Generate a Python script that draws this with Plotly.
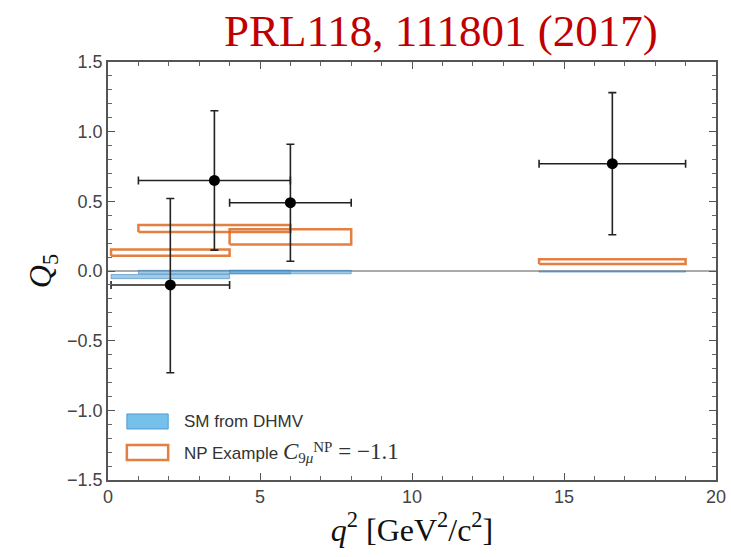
import plotly.graph_objects as go

# q^2 bin edges for the measured points [GeV^2/c^2]
bin_lo = [0.1, 1.0, 4.0, 14.18]
bin_hi = [4.0, 6.0, 8.0, 19.0]

# Measured Q5 with asymmetric errors
q5_val = [-0.10, 0.65, 0.49, 0.77]
q5_err_up = [0.62, 0.50, 0.42, 0.51]
q5_err_dn = [0.63, 0.50, 0.42, 0.51]

# Standard Model prediction bands (DHMV)
sm_lo = [-0.055, -0.020, -0.020, -0.008]
sm_hi = [-0.025, 0.005, 0.005, 0.000]

# New Physics example bands (C9mu^NP = -1.1)
np_lo = [0.11, 0.28, 0.19, 0.05]
np_hi = [0.155, 0.33, 0.30, 0.085]

SM_FILL = "rgba(80,160,215,0.55)"
SM_EDGE = "rgba(50,120,180,0.5)"
NP_EDGE = "rgba(222,105,30,0.85)"

fig = go.Figure()


def box_trace(x0, x1, y0, y1, fill, edge, width):
    return go.Scatter(
        x=[x0, x1, x1, x0, x0], y=[y0, y0, y1, y1, y0],
        mode="lines", fill="toself", fillcolor=fill,
        line=dict(color=edge, width=width),
        hoverinfo="skip", showlegend=False,
    )


for i in range(len(bin_lo)):
    fig.add_trace(box_trace(bin_lo[i], bin_hi[i], sm_lo[i], sm_hi[i], SM_FILL, SM_EDGE, 1))
for i in range(len(bin_lo)):
    fig.add_trace(box_trace(bin_lo[i], bin_hi[i], np_lo[i], np_hi[i], "rgba(255,255,255,0)", NP_EDGE, 2.5))

mid = [(a + b) / 2 for a, b in zip(bin_lo, bin_hi)]
half = [(b - a) / 2 for a, b in zip(bin_lo, bin_hi)]
fig.add_trace(go.Scatter(
    x=mid, y=q5_val, mode="markers",
    marker=dict(color="black", size=11),
    error_x=dict(type="data", array=half, color="#222", thickness=1.6, width=4),
    error_y=dict(type="data", array=q5_err_up, arrayminus=q5_err_dn,
                 color="#222", thickness=1.6, width=4),
    showlegend=False, hoverinfo="skip",
))

# Legend drawn as patches + labels inside the axes
SERIF = "font-family:'Liberation Serif'"
np_label = (
    "NP Example "
    f"<span style=\"{SERIF};font-size:23px\"><i>C</i></span>"
    f"<sub><span style=\"{SERIF};font-size:15px\">9<i>μ</i></span></sub>"
    f"<sup><span style=\"{SERIF};font-size:15px\">NP</span></sup>"
    f"<span style=\"{SERIF};font-size:23px\"> = −1.1</span>"
)
legend_items = [
    ("SM from DHMV", "rgba(110,190,235,0.95)", "rgba(70,150,205,0.9)", 1),
    (np_label, "white", NP_EDGE, 2.5),
]
leg_y = [0.140, 0.066]
for (label, fill, edge, w), yc in zip(legend_items, leg_y):
    fig.add_shape(type="rect", xref="x domain", yref="y domain",
                  x0=0.031, x1=0.099, y0=yc - 0.018, y1=yc + 0.018,
                  fillcolor=fill, line=dict(color=edge, width=w))
    fig.add_annotation(xref="x domain", yref="y domain", x=0.122, y=yc,
                       xanchor="left", yanchor="middle", showarrow=False,
                       text=label, font=dict(family="Liberation Sans", size=17, color="#333"))

axis_common = dict(
    showline=True, linecolor="#555", linewidth=1.5, mirror="allticks",
    ticks="inside", ticklen=7, tickwidth=1.2, tickcolor="#555",
    showgrid=False, automargin=False,
    tickfont=dict(family="Liberation Sans", size=18, color="#444"),
)

fig.update_xaxes(
    range=[0, 20], tickvals=[0, 5, 10, 15, 20],
    minor=dict(dtick=1, ticks="inside", ticklen=4, tickcolor="#666", showgrid=False),
    zeroline=False,
    title=dict(text="<i>q</i><sup>2</sup> [GeV<sup>2</sup>/c<sup>2</sup>]",
               font=dict(family="Liberation Serif", size=32, color="#111"), standoff=3),
    **axis_common,
)
fig.update_yaxes(
    range=[-1.5, 1.5], tickvals=[-1.5, -1.0, -0.5, 0.0, 0.5, 1.0, 1.5], tickformat=".1f",
    minor=dict(dtick=0.1, ticks="inside", ticklen=4, tickcolor="#666", showgrid=False),
    zeroline=True, zerolinecolor="#aaa", zerolinewidth=1.5,
    title=dict(text="<i>Q</i><sub>5</sub>",
               font=dict(family="Liberation Serif", size=32, color="#111"), standoff=6),
    **axis_common,
)

fig.update_layout(
    width=731, height=557,
    margin=dict(l=108, r=15, t=62, b=77),
    paper_bgcolor="white", plot_bgcolor="white",
    title=dict(text="PRL118, 111801 (2017)", x=0.603, xanchor="center",
               yref="container", y=0.945, yanchor="middle",
               font=dict(family="Liberation Serif", size=45, color="#c00000")),
)

fig.write_html("out.html")
